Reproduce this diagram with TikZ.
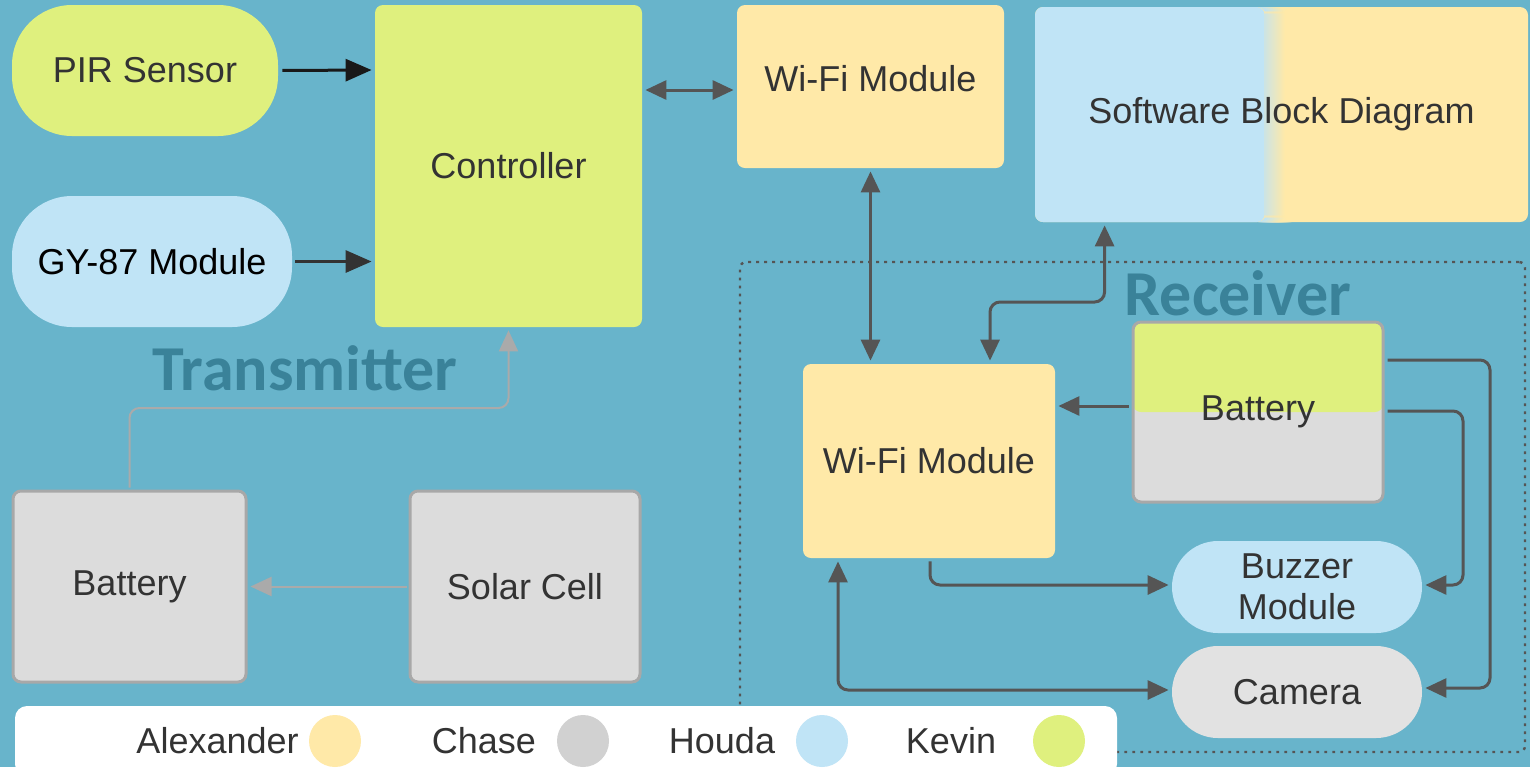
\documentclass[tikz,border=0pt]{standalone}
\usepackage{fontspec}
\setmainfont{Liberation Sans}
\newfontfamily\labfont{Carlito}
\usetikzlibrary{arrows.meta}
\definecolor{bg}{RGB}{104,180,203}
\definecolor{grn}{RGB}{223,240,126}
\definecolor{blu}{RGB}{192,228,246}
\definecolor{yel}{RGB}{255,233,168}
\definecolor{gry}{RGB}{220,220,220}
\definecolor{gryb}{RGB}{168,168,168}
\definecolor{camg}{RGB}{226,226,226}
\definecolor{txt}{RGB}{51,51,51}
\definecolor{dkg}{RGB}{85,85,85}
\definecolor{ltg}{RGB}{170,170,170}
\definecolor{ttl}{RGB}{58,130,153}
\tikzset{
  base/.style={inner sep=0pt, text=txt, font=\fontsize{18}{20.5}\selectfont, align=center},
  boxn/.style={base, rounded corners=4pt},
  pill/.style={base, rounded corners=30pt},
  pills/.style={base, rounded corners=23pt},
  grybox/.style={boxn, fill=gry, draw=gryb, line width=1.5pt},
  darr/.style={draw=dkg, line width=1.5pt, rounded corners=5pt, shorten >=1.5pt, shorten <=1.5pt},
  larr/.style={draw=ltg, line width=1pt, rounded corners=5pt, shorten >=1.5pt, shorten <=1pt},
  tip/.tip={Triangle[length=10.5pt,width=9.5pt]},
  bigtip/.tip={Triangle[length=13pt,width=11pt]},
  ttlfont/.style={font=\labfont\bfseries\fontsize{32}{32}\selectfont, text=ttl, inner sep=0pt},
  legtxt/.style={base},
  legdot/.style={circle, minimum size=26pt, inner sep=0pt}
}
\begin{document}
\begin{tikzpicture}[x=0.5pt,y=-0.5pt]
\useasboundingbox (0,0) rectangle (1530,767);
\clip (0,0) rectangle (1530,767);
\fill[bg] (0,0) rectangle (1530,767);

% receiver frame
\node[draw=dkg, line width=1.2pt, dash pattern=on 1.4pt off 2.6pt, rounded corners=3pt, minimum width=392.5pt, minimum height=245pt, inner sep=0pt] (rcv) at (1132.5,507) {};

% transmitter side
\node[pill, fill=grn, minimum width=133pt, minimum height=65.5pt] (pir) at (145,70.5) {PIR Sensor};
\node[pill, fill=blu, minimum width=140pt, minimum height=65.5pt, text=black] (gy) at (152,261.5) {GY-87 Module};
\node[boxn, fill=grn, minimum width=133.5pt, minimum height=161pt] (ctrl) at (508.5,166) {Controller};
\node[grybox, minimum width=116.5pt, minimum height=95.5pt] (tbat) at (129.5,586.5) {Battery};
\node[grybox, minimum width=115pt, minimum height=95.5pt] (sol) at (525,586.5) {Solar Cell};
\node[ttlfont] (tx) at (305,368) {Transmitter};

% top right
\node[boxn, fill=yel, minimum width=133.5pt, minimum height=81.5pt, text depth=8pt] (wt) at (870.5,86.5) {Wi-Fi Module};
\node[boxn, fill=yel, minimum width=246.5pt, minimum height=107.5pt,
  path picture={
    \fill[blu] (path picture bounding box.north west) rectangle ([xshift=-8.4pt]path picture bounding box.south);
    \foreach \i in {0,...,19} {
      \pgfmathsetmacro{\p}{100-5*\i}
      \pgfmathsetmacro{\xa}{-8.5+0.5*\i}
      \pgfmathsetmacro{\xb}{\xa+0.6}
      \fill[blu!\p!yel] ([xshift=\xa pt]path picture bounding box.south) rectangle ([xshift=\xb pt]path picture bounding box.north);
    }
  }] (sbd) at (1281.5,114.5) {Software Block Diagram};

% receiver
\node[ttlfont] (rx) at (1238,293) {Receiver};
\node[boxn, fill=yel, minimum width=126pt, minimum height=97pt] (wb) at (929,461) {Wi-Fi Module};
\node[grybox,
  path picture={\fill[grn] (path picture bounding box.north west) rectangle (path picture bounding box.east);},
  minimum width=125pt, minimum height=90pt] (rbat) at (1258,412) {Battery};
\node[pills, fill=blu, minimum width=125pt, minimum height=46pt] (buz) at (1297,587) {Buzzer\\Module};
\node[pills, fill=camg, minimum width=125pt, minimum height=46pt] (cam) at (1297,692) {Camera};

\coordinate (rj) at (1050,302);
\coordinate (rx1) at (1490,500);
\coordinate (rx2) at (1463,500);
\coordinate (lj) at (300,408);

% connectors
\draw[line width=1.5pt, draw=black!90, -bigtip, shorten <=2pt, shorten >=1.5pt] (pir.east) -- ([yshift=0.25pt]pir.east -| ctrl.west);
\draw[line width=1.5pt, draw=black!80, -bigtip, shorten <=1.5pt, shorten >=1.5pt] (gy.east) -- (gy.east -| ctrl.west);
\draw[darr, tip-tip] ([yshift=-1.75pt]wt.west -| ctrl.east) -- ([yshift=-1.75pt]wt.west);
\draw[darr, tip-tip] (wt.south) -- (wt.south |- wb.north);
\draw[darr, tip-tip] ([xshift=30.5pt]wb.north) |- (rj) -| ([xshift=35pt]sbd.south west);
\draw[darr, -tip] ([yshift=3pt]rbat.west) -- ([yshift=3pt]rbat.west -| wb.east);
\draw[darr, -tip] ([yshift=26pt]rbat.east) -| (rx1) |- ([yshift=2pt]cam.east);
\draw[darr, -tip] ([yshift=0.5pt]rbat.east) -| (rx2) |- ([yshift=1pt]buz.east);
\draw[darr, -tip] ([xshift=0.5pt]wb.south) |- ([yshift=1pt]buz.west);
\draw[darr, tip-tip] ([xshift=-45.5pt]wb.south) |- ([yshift=1pt]cam.west);
\draw[larr, -tip] (sol.west) -- (sol.west -| tbat.east);
\draw[larr, -tip] (tbat.north) |- (lj) -| (ctrl.south);

% legend
\node[fill=white, rounded corners=6pt, minimum width=551pt, minimum height=35pt, inner sep=0pt] (leg) at (566,741) {};
\node[legtxt, anchor=east] (la) at (299,741) {Alexander};
\node[legdot, fill=yel] (ca) at (335,741) {};
\node[legtxt] (lc) at (484,741) {Chase};
\node[legdot, fill=gry!95!black] (cc) at (583,741) {};
\node[legtxt] (lh) at (722,741) {Houda};
\node[legdot, fill=blu] (ch) at (822,741) {};
\node[legtxt] (lk) at (951,741) {Kevin};
\node[legdot, fill=grn] (ck) at (1059,741) {};
\end{tikzpicture}
\end{document}
